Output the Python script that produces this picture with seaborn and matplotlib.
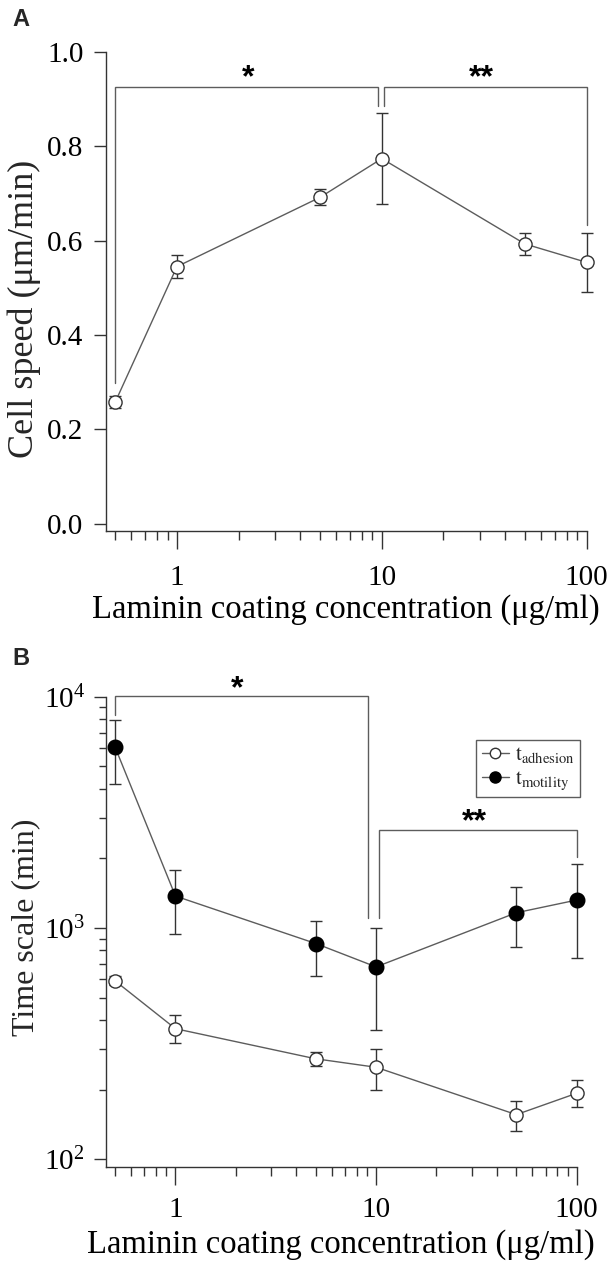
import numpy as np
import pandas as pd
import matplotlib
matplotlib.use("Agg")
import matplotlib.pyplot as plt
from matplotlib.lines import Line2D
import seaborn as sns
from matplotlib.ticker import LogLocator, LogFormatterMathtext, NullFormatter, FixedLocator

# ---------------- data ----------------
laminin = [0.5, 1, 5, 10, 50, 100]

speed = [0.258, 0.545, 0.692, 0.774, 0.593, 0.554]
speed_err = [0.012, 0.025, 0.017, 0.096, 0.023, 0.063]

t_adhesion = [591, 367, 272, 250, 156, 193]
t_adhesion_low = [565, 317, 252, 200, 132, 168]
t_adhesion_high = [618, 422, 290, 301, 179, 220]

t_motility = [6053, 1374, 857, 679, 1164, 1321]
t_motility_low = [4190, 946, 621, 363, 824, 741]
t_motility_high = [7940, 1790, 1069, 1000, 1506, 1900]

speed_ticks = [0.0, 0.2, 0.4, 0.6, 0.8, 1.0]
speed_ticklabels = ["0.0", "0.2", "0.4", "0.6", "0.8", "1.0"]
x_ticks = [1, 10, 100]
x_ticklabels = ["1", "10", "100"]

xlabel = "Laminin coating concentration (\u03bcg/ml)"
ylabel_a = "Cell speed (\u03bcm/min)"
ylabel_b = "Time scale (min)"
legend_labels = [r"$\mathrm{t_{adhesion}}$", r"$\mathrm{t_{motility}}$"]

# ---------------- style ----------------
sns.set_style("ticks")
plt.rcParams["font.family"] = ["Liberation Serif", "DejaVu Serif"]
plt.rcParams["mathtext.fontset"] = "stix"

LINE = "#5c5c5c"
EDGE = "#333333"
TICK_FS = 21
XLAB_FS = 23.5

fig = plt.figure(figsize=(6.16, 12.65), dpi=100)
axA = fig.add_axes([105.7 / 616, 1 - 531 / 1265, 481 / 616, 479 / 1265])
axB = fig.add_axes([105.7 / 616, 1 - 1166.7 / 1265, 471 / 616, 470 / 1265])

df_a = pd.DataFrame({"laminin": laminin, "speed": speed})
df_adh = pd.DataFrame({"laminin": laminin, "t": t_adhesion})
df_mot = pd.DataFrame({"laminin": laminin, "t": t_motility})


def style_axes(ax):
    for s in ["top", "right"]:
        ax.spines[s].set_visible(False)
    for s in ["left", "bottom"]:
        ax.spines[s].set_color(EDGE)
        ax.spines[s].set_linewidth(1.0)
    ax.set_xscale("log")
    ax.set_xlim(0.449, 100)
    ax.xaxis.set_major_locator(FixedLocator(x_ticks))
    ax.set_xticklabels(x_ticklabels)
    ax.xaxis.set_minor_locator(LogLocator(base=10, subs=np.arange(2, 10) * 1.0, numticks=20))
    ax.xaxis.set_minor_formatter(NullFormatter())
    ax.tick_params(axis="both", which="both", direction="out", colors=EDGE,
                   labelcolor="black", labelsize=TICK_FS, width=1.0)
    ax.tick_params(axis="x", which="major", length=13, pad=11.5)
    ax.tick_params(axis="x", which="minor", length=6.5)
    ax.tick_params(axis="y", which="major", length=9, pad=7)
    ax.set_xlabel(xlabel, fontsize=XLAB_FS, color="black")


bk = dict(color=LINE, lw=1.0, clip_on=False, solid_joinstyle="miter")
star = dict(ha="center", va="baseline", fontsize=23, fontweight="bold",
            family="Liberation Sans", color="black")

# ---------------- Panel A ----------------
style_axes(axA)
axA.errorbar(laminin, speed, yerr=speed_err, fmt="none", ecolor=EDGE,
             elinewidth=1.0, capsize=4, capthick=1.0, zorder=2, clip_on=False)
sns.lineplot(data=df_a, x="laminin", y="speed", ax=axA, color=LINE, lw=1.0,
             marker="o", markersize=9.5, markerfacecolor="white",
             markeredgecolor=EDGE, markeredgewidth=1.0, zorder=3, clip_on=False)
axA.set_ylim(-0.0155, 1.0)
axA.set_yticks(speed_ticks)
axA.set_yticklabels(speed_ticklabels)
axA.set_ylabel(ylabel_a, fontsize=26)
axA.yaxis.set_label_coords(-0.1345, 0.4645)
axA.xaxis.set_label_coords(0.5, -0.131)

axA.plot([0.5, 0.5, 9.63, 9.63], [0.299, 0.926, 0.926, 0.886], **bk)
axA.plot([10.3, 10.3, 100, 100], [0.886, 0.926, 0.926, 0.633], **bk)
axA.text(2.23, 0.928, "*", **star)
axA.text(30.5, 0.928, "**", **star)

# ---------------- Panel B ----------------
style_axes(axB)
axB.set_yscale("log")
axB.set_ylim(92.9, 10000)
axB.yaxis.set_major_locator(LogLocator(base=10, numticks=10))
axB.yaxis.set_major_formatter(LogFormatterMathtext())
axB.yaxis.set_minor_locator(LogLocator(base=10, subs=np.arange(2, 10) * 1.0, numticks=20))
axB.yaxis.set_minor_formatter(NullFormatter())
axB.tick_params(axis="y", which="minor", length=5)
axB.tick_params(axis="y", which="major", pad=6)
axB.tick_params(axis="x", which="major", pad=9)

adh_err = [np.array(t_adhesion) - np.array(t_adhesion_low),
           np.array(t_adhesion_high) - np.array(t_adhesion)]
mot_err = [np.array(t_motility) - np.array(t_motility_low),
           np.array(t_motility_high) - np.array(t_motility)]
axB.errorbar(laminin, t_adhesion, yerr=adh_err, fmt="none", ecolor=EDGE,
             elinewidth=1.0, capsize=4, capthick=1.0, zorder=2, clip_on=False)
axB.errorbar(laminin, t_motility, yerr=mot_err, fmt="none", ecolor=EDGE,
             elinewidth=1.0, capsize=4, capthick=1.0, zorder=2, clip_on=False)
sns.lineplot(data=df_adh, x="laminin", y="t", ax=axB, color=LINE, lw=1.0,
             marker="o", markersize=9.5, markerfacecolor="white",
             markeredgecolor=EDGE, markeredgewidth=1.0, zorder=3, clip_on=False)
sns.lineplot(data=df_mot, x="laminin", y="t", ax=axB, color=LINE, lw=1.0,
             marker="o", markersize=10.5, markerfacecolor="black",
             markeredgecolor="black", markeredgewidth=1.0, zorder=3, clip_on=False)
axB.set_ylabel(ylabel_b, fontsize=23)
axB.yaxis.set_label_coords(-0.1395, 0.51)
axB.xaxis.set_label_coords(0.5, -0.133)

axB.plot([0.5, 0.5, 9.1, 9.1], [8340, 10100, 10100, 1100], **bk)
axB.plot([10.4, 10.4, 100, 100], [1100, 2662, 2662, 2023], **bk)
axB.text(2.03, 9900, "*", **star)
axB.text(31.0, 2640, "**", **star)

handles = [
    Line2D([], [], color=LINE, lw=1.0, marker="o", markersize=7.5,
           markerfacecolor="white", markeredgecolor=EDGE),
    Line2D([], [], color=LINE, lw=1.0, marker="o", markersize=8,
           markerfacecolor="black", markeredgecolor="black"),
]
leg = axB.legend(handles, legend_labels, loc="upper right",
                 bbox_to_anchor=(1.007, 0.908), fontsize=15,
                 frameon=True, fancybox=False, edgecolor=EDGE, handlelength=1.3,
                 handletextpad=0.3, borderpad=0.25, labelspacing=0.2,
                 borderaxespad=0.0)
leg.get_frame().set_linewidth(1.0)

# panel letters
fig.text(12 / 616, 1 - 8 / 1265, "A", ha="left", va="top", fontsize=17,
         fontweight="bold", family="Liberation Sans")
fig.text(12 / 616, 1 - 647 / 1265, "B", ha="left", va="top", fontsize=17,
         fontweight="bold", family="Liberation Sans")

fig.savefig("out.png", dpi=100)
